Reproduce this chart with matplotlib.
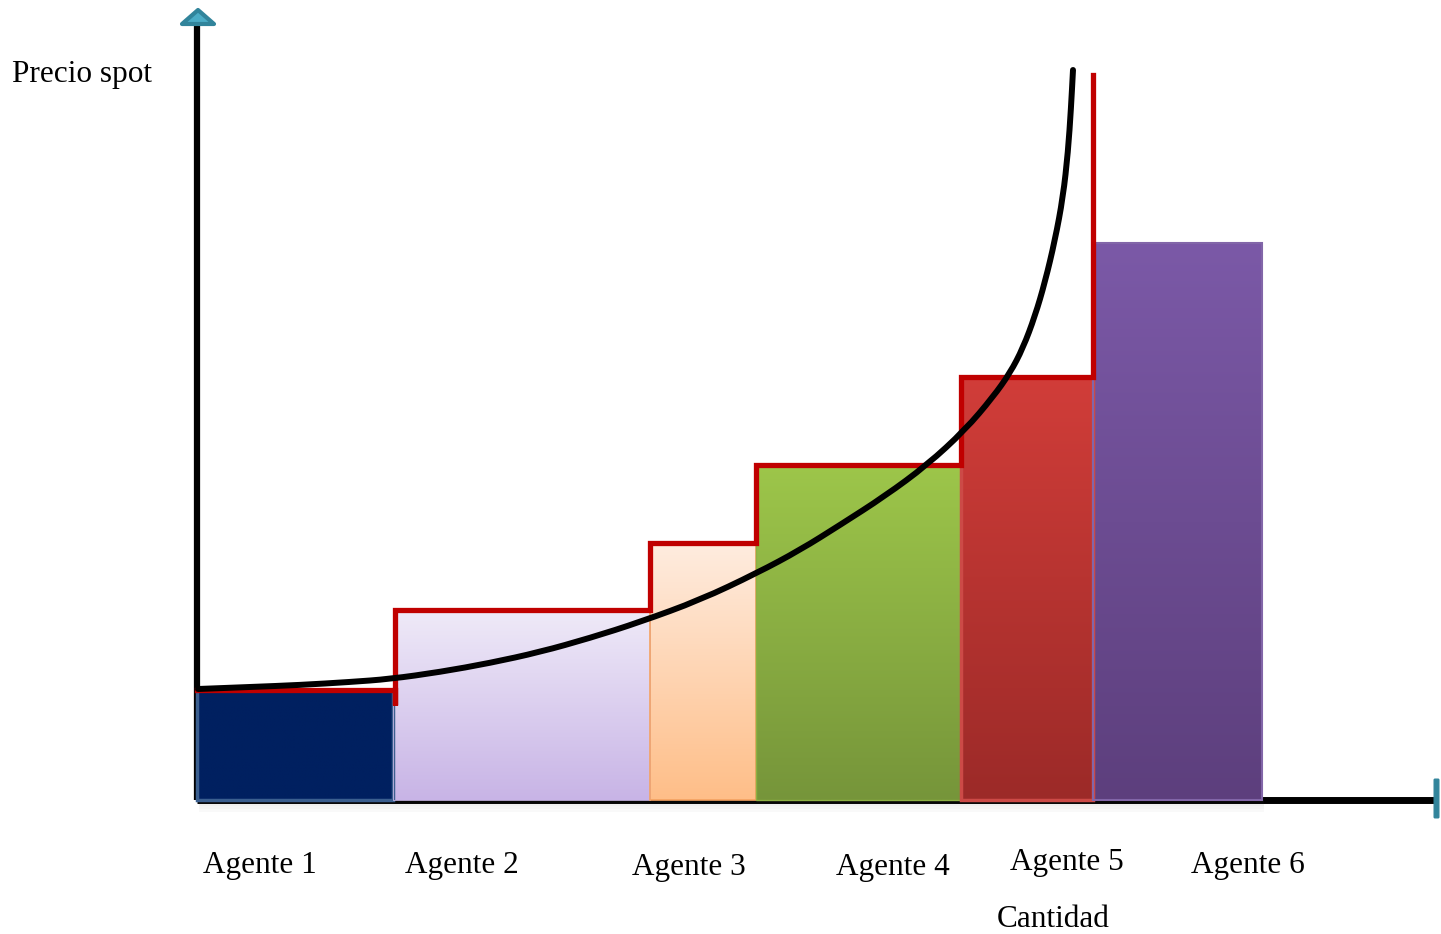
import matplotlib
matplotlib.use("Agg")
import matplotlib.pyplot as plt
import numpy as np
from matplotlib.patches import Rectangle, Polygon, FancyBboxPatch, PathPatch
from matplotlib.path import Path
from matplotlib.colors import LinearSegmentedColormap

# Supply blocks of each agent: quantity edges and offered price
agents = ["Agente 1", "Agente 2", "Agente 3", "Agente 4", "Agente 5", "Agente 6"]
q_edges = [0, 196, 453, 559, 764, 896, 1065]
prices = [110, 190, 257, 335, 423, 557]

# Stepped offer curve (red): price levels and the last vertical jump
step_q = [0, 198, 198, 198, 453, 453, 559, 559, 764, 764, 896, 896]
step_p = [110, 110, 95, 190, 190, 257, 257, 335, 335, 423, 423, 725]

# Spot price curve (black), read point by point
curve_q = [1, 53, 103, 153, 193, 243, 293, 343, 393, 443, 503, 560, 603,
           643, 688, 730, 768, 796, 813, 826, 838, 848, 858, 866, 871, 874, 876]
curve_p = [111, 113, 115, 118, 121, 128, 137, 148, 162, 178, 200, 227,
           250, 275, 304, 335, 370, 403, 427, 452, 484, 518, 560, 603, 648,
           692, 730]

# fill colours (top, bottom) and outline colours
fill_top = ["#002060", "#EFEAF8", "#FEECDF", "#9DC64A", "#D13D39", "#7B59A7"]
fill_bot = ["#002060", "#C8B4E6", "#FFBE88", "#76953A", "#9C2A28", "#5D3F7D"]
edge_col = ["#3B5F8F", "#C9B8E6", "#F4A261", "#8DB043", "#CC4A47", "#8266A8"]
edge_lw = [2.5, 0.6, 1.2, 1.0, 2.5, 1.5]

# label placement
label_x = [6, 208, 435, 639, 813, 994]
label_y = [-73, -73, -75, -75, -70, -73]


def smooth_path(xs, ys):
    # quadratic bezier through the midpoints, read points act as controls
    pts = list(zip(xs, ys))
    verts = [pts[0]]
    codes = [Path.MOVETO]
    for i in range(1, len(pts) - 1):
        mid = ((pts[i][0] + pts[i + 1][0]) / 2, (pts[i][1] + pts[i + 1][1]) / 2)
        verts += [pts[i], mid]
        codes += [Path.CURVE3, Path.CURVE3]
    verts.append(pts[-1])
    codes.append(Path.LINETO)
    return Path(verts, codes)


fig = plt.figure(figsize=(14.41, 9.34), dpi=100)
ax = fig.add_axes([0, 0, 1, 1])
ax.set_axis_off()

# axes: black lines with teal ends
ax.plot([0, 0], [0, 775], color="black", lw=4.5, solid_capstyle="butt", zorder=1)
ax.plot([0, 1240], [0, 0], color="black", lw=5.0, solid_capstyle="butt", zorder=1)
ax.add_patch(Polygon([[-15, 776], [17, 776], [1, 790]], closed=True,
                     facecolor="#4BACC6", edgecolor="#31849B", lw=3,
                     joinstyle="round", zorder=5))
ax.add_patch(FancyBboxPatch((1238, -17), 3, 37, boxstyle="round,pad=0.8",
                            facecolor="#31849B", edgecolor="#31849B", zorder=5))

for i in range(len(agents)):
    x0, x1 = q_edges[i], q_edges[i + 1]
    h = prices[i]
    # soft drop shadow below each block
    for k, a in enumerate([0.10, 0.08, 0.05, 0.03]):
        ax.add_patch(Rectangle((x0 + 2, -3 - 3 * k), x1 - x0, 3,
                               facecolor="#444444", alpha=a, lw=0, zorder=1.5))
    cmap = LinearSegmentedColormap.from_list("g%d" % i, [fill_bot[i], fill_top[i]])
    grad = np.linspace(0, 1, 256).reshape(-1, 1)
    ax.imshow(grad, extent=[x0, x1, 0, h], origin="lower", cmap=cmap,
              aspect="auto", interpolation="bilinear", zorder=2)
    ax.add_patch(Rectangle((x0, 0), x1 - x0, h, fill=False,
                           edgecolor=edge_col[i], lw=edge_lw[i], zorder=2.2))

ax.plot(step_q, step_p, color="#C00000", lw=3.8, solid_joinstyle="miter", zorder=3)
ax.add_patch(PathPatch(smooth_path(curve_q, curve_p), fill=False,
                       edgecolor="black", lw=4.3, capstyle="round",
                       joinstyle="round", zorder=4))

serif = "Liberation Serif"
for name, x, y in zip(agents, label_x, label_y):
    ax.text(x, y, name, fontsize=22.5, family=serif, ha="left", va="baseline")
ax.text(800, -127, "Cantidad", fontsize=22.5, family=serif, ha="left", va="baseline")
ax.text(-185, 718, "Precio spot", fontsize=22.5, family=serif, ha="left", va="baseline")

ax.set_xlim(-197, 1244)
ax.set_ylim(-134, 800)

fig.savefig("out.png", dpi=100)
